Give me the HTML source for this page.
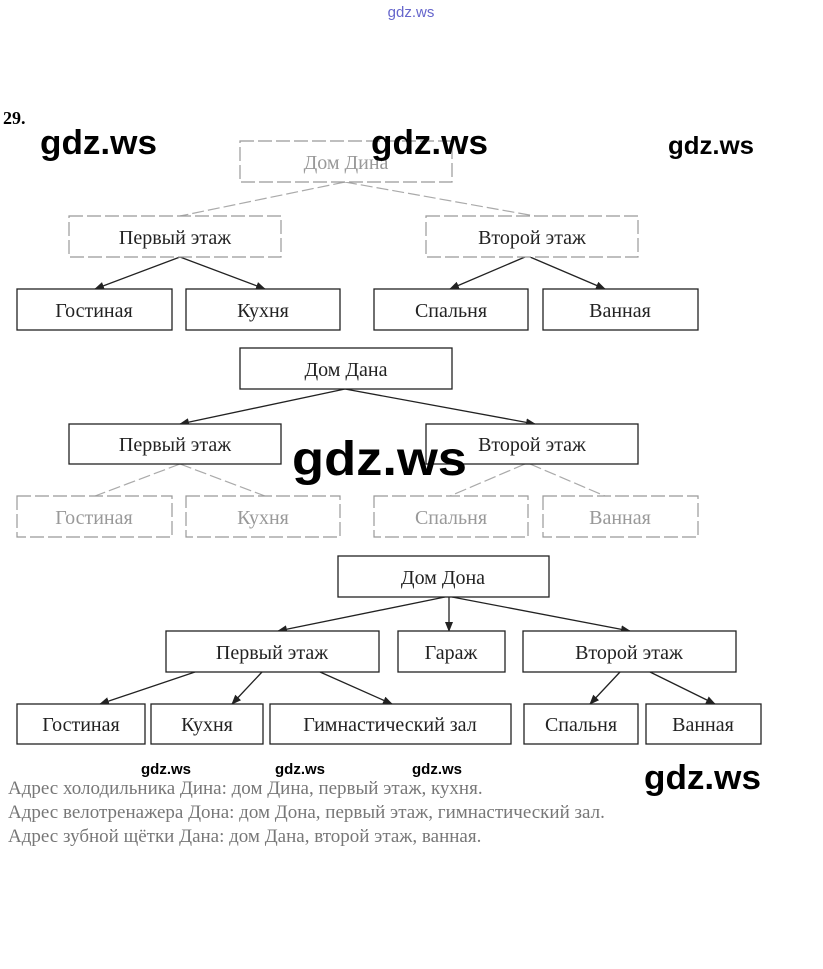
<!DOCTYPE html>
<html><head><meta charset="utf-8"><style>
html,body{margin:0;padding:0;background:#fff;}
svg{display:block}
.b{fill:#fff;stroke:#222;stroke-width:1.3}
.f{fill:#fff;stroke:#999;stroke-width:1.2;stroke-dasharray:14 4}
.t{font-family:"Liberation Serif",serif;font-size:20px;fill:#222;text-anchor:middle}
.tf{font-family:"Liberation Serif",serif;font-size:20px;fill:#999;text-anchor:middle}
.l{stroke:#222;stroke-width:1.3;fill:none;marker-end:url(#a)}
.lf{stroke:#aaa;stroke-width:1.2;fill:none;stroke-dasharray:12 4}
.w{font-family:"Liberation Sans",sans-serif;fill:#000;font-weight:600}
.p{font-family:"Liberation Serif",serif;font-size:19px;fill:#777}
</style></head><body>
<svg width="823" height="969" viewBox="0 0 823 969">
<defs><marker id="a" markerWidth="10" markerHeight="8" refX="9" refY="4" orient="auto" markerUnits="userSpaceOnUse"><path d="M0,0 L10,4 L0,8 z" fill="#222"/></marker></defs>
<text x="411" y="17" font-family="Liberation Sans" font-size="15" style="fill:#66c" text-anchor="middle">gdz.ws</text>
<text x="3" y="124" font-family="Liberation Serif" font-weight="bold" font-size="18">29.</text>

<line class="lf" x1="345" y1="182" x2="180" y2="216"/><line class="lf" x1="345" y1="182" x2="535" y2="216"/>
<line class="l" x1="180" y1="257" x2="95" y2="289"/><line class="l" x1="180" y1="257" x2="265" y2="289"/>
<line class="l" x1="525" y1="257" x2="450" y2="289"/><line class="l" x1="530" y1="257" x2="605" y2="289"/>
<rect class="f" x="240" y="141" width="212" height="41"/><text class="tf" x="346" y="169">Дом Дина</text>
<rect class="f" x="69" y="216" width="212" height="41"/><text class="t" x="175" y="244">Первый этаж</text>
<rect class="f" x="426" y="216" width="212" height="41"/><text class="t" x="532" y="244">Второй этаж</text>
<rect class="b" x="17" y="289" width="155" height="41"/><text class="t" x="94" y="317">Гостиная</text>
<rect class="b" x="186" y="289" width="154" height="41"/><text class="t" x="263" y="317">Кухня</text>
<rect class="b" x="374" y="289" width="154" height="41"/><text class="t" x="451" y="317">Спальня</text>
<rect class="b" x="543" y="289" width="155" height="41"/><text class="t" x="620" y="317">Ванная</text>

<line class="l" x1="345" y1="389" x2="180" y2="424"/><line class="l" x1="345" y1="389" x2="535" y2="424"/>
<line class="lf" x1="180" y1="464" x2="95" y2="496"/><line class="lf" x1="180" y1="464" x2="265" y2="496"/>
<line class="lf" x1="525" y1="464" x2="450" y2="496"/><line class="lf" x1="530" y1="464" x2="605" y2="496"/>
<rect class="b" x="240" y="348" width="212" height="41"/><text class="t" x="346" y="376">Дом Дана</text>
<rect class="b" x="69" y="424" width="212" height="40"/><text class="t" x="175" y="451">Первый этаж</text>
<rect class="b" x="426" y="424" width="212" height="40"/><text class="t" x="532" y="451">Второй этаж</text>
<rect class="f" x="17" y="496" width="155" height="41"/><text class="tf" x="94" y="524">Гостиная</text>
<rect class="f" x="186" y="496" width="154" height="41"/><text class="tf" x="263" y="524">Кухня</text>
<rect class="f" x="374" y="496" width="154" height="41"/><text class="tf" x="451" y="524">Спальня</text>
<rect class="f" x="543" y="496" width="155" height="41"/><text class="tf" x="620" y="524">Ванная</text>

<line class="l" x1="445" y1="597" x2="278" y2="631"/><line class="l" x1="449" y1="597" x2="449" y2="631"/><line class="l" x1="452" y1="597" x2="630" y2="631"/>
<line class="l" x1="195" y1="672" x2="100" y2="704"/><line class="l" x1="262" y1="672" x2="232" y2="704"/><line class="l" x1="320" y1="672" x2="392" y2="704"/>
<line class="l" x1="620" y1="672" x2="590" y2="704"/><line class="l" x1="650" y1="672" x2="715" y2="704"/>
<rect class="b" x="338" y="556" width="211" height="41"/><text class="t" x="443" y="584">Дом Дона</text>
<rect class="b" x="166" y="631" width="213" height="41"/><text class="t" x="272" y="659">Первый этаж</text>
<rect class="b" x="398" y="631" width="107" height="41"/><text class="t" x="451" y="659">Гараж</text>
<rect class="b" x="523" y="631" width="213" height="41"/><text class="t" x="629" y="659">Второй этаж</text>
<rect class="b" x="17" y="704" width="128" height="40"/><text class="t" x="81" y="731">Гостиная</text>
<rect class="b" x="151" y="704" width="112" height="40"/><text class="t" x="207" y="731">Кухня</text>
<rect class="b" x="270" y="704" width="241" height="40"/><text class="t" x="390" y="731">Гимнастический  зал</text>
<rect class="b" x="524" y="704" width="114" height="40"/><text class="t" x="581" y="731">Спальня</text>
<rect class="b" x="646" y="704" width="115" height="40"/><text class="t" x="703" y="731">Ванная</text>

<text class="p" x="8" y="794">Адрес холодильника Дина: дом Дина, первый этаж, кухня.</text>
<text class="p" x="8" y="818">Адрес велотренажера Дона: дом Дона, первый этаж, гимнастический зал.</text>
<text class="p" x="8" y="842">Адрес зубной щётки Дана: дом Дана, второй этаж, ванная.</text>

<text class="w" x="40" y="154" font-size="34" textLength="117" lengthAdjust="spacingAndGlyphs">gdz.ws</text>
<text class="w" x="371" y="154" font-size="34" textLength="117" lengthAdjust="spacingAndGlyphs">gdz.ws</text>
<text class="w" x="668" y="154" font-size="25" textLength="86" lengthAdjust="spacingAndGlyphs">gdz.ws</text>
<text class="w" x="292" y="475" font-size="48" textLength="175" lengthAdjust="spacingAndGlyphs">gdz.ws</text>
<text class="w" x="644" y="789" font-size="34" textLength="117" lengthAdjust="spacingAndGlyphs">gdz.ws</text>
<text class="w" x="141" y="774" font-size="15" textLength="50" lengthAdjust="spacingAndGlyphs">gdz.ws</text>
<text class="w" x="275" y="774" font-size="15" textLength="50" lengthAdjust="spacingAndGlyphs">gdz.ws</text>
<text class="w" x="412" y="774" font-size="15" textLength="50" lengthAdjust="spacingAndGlyphs">gdz.ws</text>
</svg>
</body></html>
